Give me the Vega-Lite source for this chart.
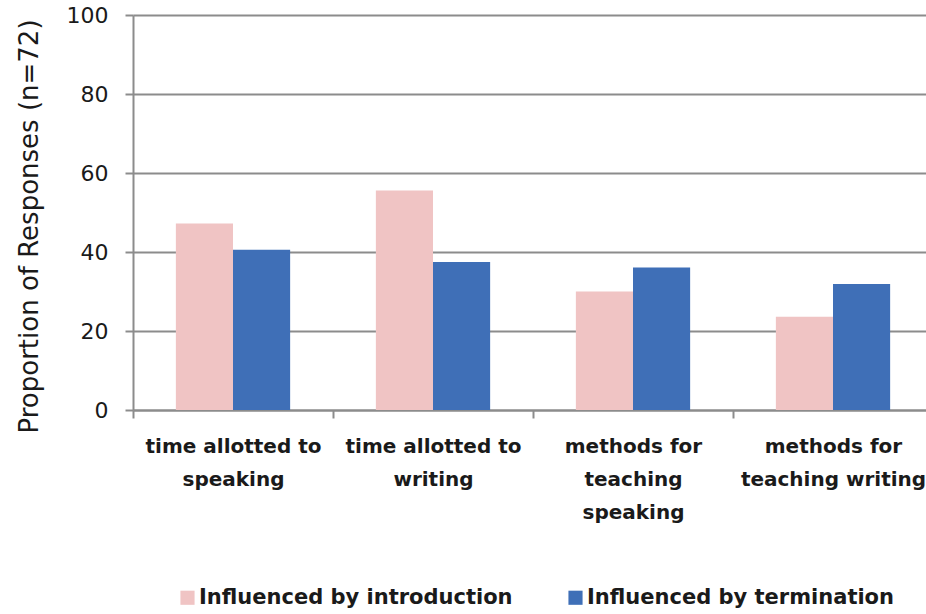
{
  "$schema": "https://vega.github.io/schema/vega-lite/v6.json",
  "autosize": "none",
  "width": 800,
  "height": 395,
  "padding": {"left": 133, "top": 15, "right": 0, "bottom": 204},
  "background": "white",
  "config": {"view": {"stroke": null}, "font": "DejaVu Sans"},
  "data": {
    "values": [
      {"category": "time allotted to speaking", "series": "Influenced by introduction", "value": 47.2},
      {"category": "time allotted to speaking", "series": "Influenced by termination", "value": 40.6},
      {"category": "time allotted to writing", "series": "Influenced by introduction", "value": 55.6},
      {"category": "time allotted to writing", "series": "Influenced by termination", "value": 37.5},
      {"category": "methods for teaching speaking", "series": "Influenced by introduction", "value": 30.0},
      {"category": "methods for teaching speaking", "series": "Influenced by termination", "value": 36.1},
      {"category": "methods for teaching writing", "series": "Influenced by introduction", "value": 23.6},
      {"category": "methods for teaching writing", "series": "Influenced by termination", "value": 31.9}
    ]
  },
  "mark": {"type": "bar"},
  "encoding": {
    "x": {
      "field": "category",
      "type": "nominal",
      "sort": null,
      "scale": {"paddingInner": 0, "paddingOuter": 0},
      "axis": {
        "title": null,
        "labelAngle": 0,
        "labelFont": "DejaVu Sans",
        "labelFontWeight": "bold",
        "labelFontSize": 20,
        "labelColor": "#1a1a1a",
        "labelLineHeight": 33,
        "labelBaseline": "top",
        "labelPadding": 18,
        "tickBand": "extent",
        "tickSize": 8,
        "tickColor": "#8c8c8c",
        "tickWidth": 2,
        "domainColor": "#8c8c8c",
        "domainWidth": 2,
        "labelLimit": 0,
        "labelExpr": "datum.value == 'time allotted to speaking' ? ['time allotted to', 'speaking'] : datum.value == 'time allotted to writing' ? ['time allotted to', 'writing'] : datum.value == 'methods for teaching speaking' ? ['methods for', 'teaching', 'speaking'] : datum.value == 'methods for teaching writing' ? ['methods for', 'teaching writing'] : ''"
      }
    },
    "xOffset": {
      "field": "series",
      "type": "nominal",
      "scale": {"paddingInner": 0, "paddingOuter": 0.75}
    },
    "y": {
      "field": "value",
      "type": "quantitative",
      "scale": {"domain": [0, 100]},
      "axis": {
        "title": "Proportion of Responses (n=72)",
        "titleFont": "DejaVu Sans",
        "titleFontWeight": "normal",
        "titleFontSize": 26,
        "titleColor": "#1a1a1a",
        "titlePadding": 24,
        "titleY": 211,
        "values": [0, 20, 40, 60, 80, 100],
        "labelFont": "DejaVu Sans",
        "labelFontSize": 22,
        "labelColor": "#1a1a1a",
        "labelPadding": 17,
        "tickSize": 8,
        "tickColor": "#8c8c8c",
        "tickWidth": 2,
        "domainColor": "#8c8c8c",
        "domainWidth": 2,
        "grid": true,
        "gridColor": "#8c8c8c",
        "gridWidth": 2
      }
    },
    "color": {
      "field": "series",
      "type": "nominal",
      "scale": {
        "domain": ["Influenced by introduction", "Influenced by termination"],
        "range": ["#f0c4c4", "#3f6fb7"]
      },
      "legend": {
        "title": null,
        "orient": "none",
        "legendX": 44,
        "legendY": 572,
        "direction": "horizontal",
        "symbolType": "square",
        "symbolSize": 200,
        "symbolStrokeWidth": 0,
        "labelOffset": 1,
        "labelFont": "DejaVu Sans",
        "labelFontWeight": "bold",
        "labelFontSize": 21,
        "labelColor": "#1a1a1a",
        "labelLimit": 0,
        "columnPadding": 52
      }
    }
  }
}
